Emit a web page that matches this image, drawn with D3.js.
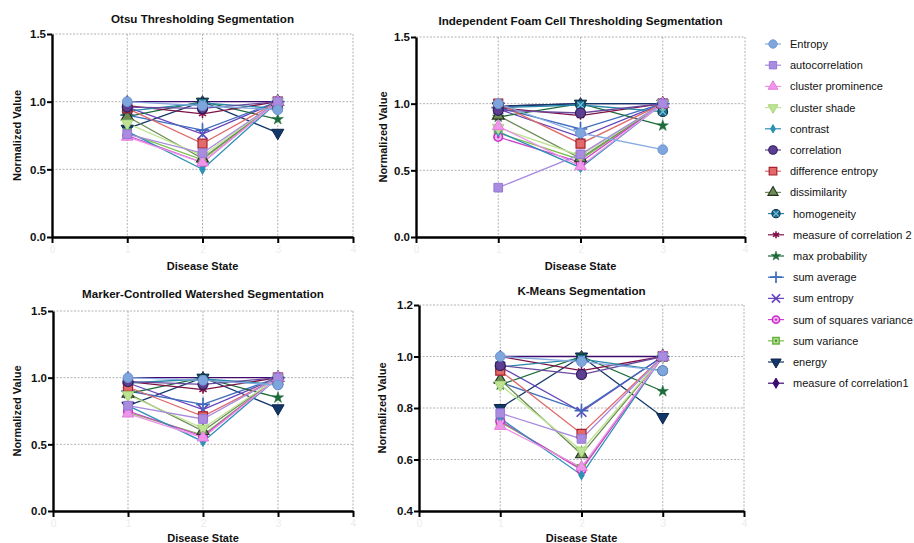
<!DOCTYPE html>
<html>
<head>
<meta charset="utf-8">
<script src="https://cdn.jsdelivr.net/npm/d3@7"></script>
<style>
  body { margin: 0; background: #fff; }
  svg { font-family: "Liberation Sans", Arial, sans-serif; display: block; }
</style>
</head>
<body>
<div id="chart"></div>
<script>
// ---- data ----
const seriesNames = [
  "Entropy", "autocorrelation", "cluster prominence", "cluster shade", "contrast",
  "correlation", "difference entropy", "dissimilarity", "homogeneity",
  "measure of correlation 2", "max probability", "sum average", "sum entropy",
  "sum of squares variance", "sum variance", "energy", "measure of correlation1"
];
const diseaseStates = [1, 2, 3];
const xTicks = [0, 1, 2, 3, 4];

// one row per series, values at disease state 1, 2, 3
const otsuValues = [
  [1.00, 0.97, 0.94], [0.76, 0.62, 1.00], [0.74, 0.55, 1.00], [0.84, 0.60, 1.00],
  [0.78, 0.50, 1.00], [0.96, 0.95, 1.00], [0.95, 0.69, 1.00], [0.89, 0.58, 1.00],
  [0.93, 0.99, 0.95], [0.97, 0.91, 1.00], [0.89, 1.00, 0.87], [0.90, 0.79, 1.00],
  [0.96, 0.76, 1.00], [0.75, 0.55, 1.00], [0.77, 0.57, 1.00], [0.80, 1.00, 0.77],
  [1.00, 1.00, 1.00]
];
const foamValues = [
  [1.00, 0.78, 0.655], [0.37, 0.62, 1.00], [0.83, 0.53, 1.00], [0.82, 0.61, 1.00],
  [0.79, 0.52, 1.00], [0.95, 0.93, 1.00], [1.00, 0.70, 1.00], [0.91, 0.59, 1.00],
  [0.97, 0.99, 0.94], [0.97, 0.91, 1.00], [0.90, 1.00, 0.835], [0.97, 0.81, 1.00],
  [0.96, 0.75, 1.00], [0.75, 0.56, 1.00], [0.78, 0.58, 1.00], [0.98, 1.00, 1.00],
  [0.98, 1.00, 1.00]
];
const watershedValues = [
  [1.00, 0.98, 0.945], [0.79, 0.69, 1.00], [0.73, 0.55, 1.00], [0.87, 0.62, 1.00],
  [0.79, 0.52, 1.00], [0.97, 0.95, 1.00], [0.93, 0.71, 1.00], [0.88, 0.60, 1.00],
  [0.96, 0.99, 0.95], [0.97, 0.91, 1.00], [0.88, 1.00, 0.85], [0.90, 0.80, 1.00],
  [0.96, 0.76, 1.00], [0.75, 0.56, 1.00], [0.74, 0.57, 1.00], [0.79, 1.00, 0.77],
  [1.00, 1.00, 1.00]
];
const kmeansValues = [
  [1.00, 0.98, 0.945], [0.78, 0.68, 1.00], [0.73, 0.57, 1.00], [0.89, 0.635, 1.00],
  [0.76, 0.54, 1.00], [0.965, 0.93, 1.00], [0.945, 0.70, 1.00], [0.91, 0.62, 1.00],
  [0.96, 0.99, 0.945], [1.00, 0.945, 1.00], [0.89, 1.00, 0.865], [0.90, 0.79, 1.00],
  [0.96, 0.785, 1.00], [0.75, 0.56, 1.00], [0.745, 0.565, 1.00], [0.80, 1.00, 0.765],
  [1.00, 1.00, 1.00]
];

const yTicks15 = [0, 0.5, 1.0, 1.5];
const yTicks12 = [0.4, 0.6, 0.8, 1.0, 1.2];

// ---- styles ----
const lineColors = ["#86abe0", "#a98be0", "#ee92e8", "#bfe394", "#2e90b5", "#6a4a9e",
  "#e06a6a", "#6d8b57", "#2b88aa", "#7d1247", "#1d6b3a", "#3f6bbd", "#6644bb",
  "#cc44cc", "#7ac04a", "#12386b", "#3d0c6e"];

const markerStyles = [
  { type: d3.symbolCircle, size: 75, fill: "#7ea6dc", stroke: "#6f98d4", sw: 1 },
  { type: d3.symbolSquare, size: 75, fill: "#a98be0", stroke: "#9678d6", sw: 1 },
  { type: d3.symbolTriangle, size: 58, fill: "#ef96ea", stroke: "#e27cde", sw: 1 },
  { type: d3.symbolTriangle, size: 58, fill: "#bfe394", stroke: "#a8d67a", sw: 1, rot: true },
  { type: d3.symbolDiamond, size: 28, fill: "#2e90b5", stroke: "#2e90b5", sw: 1 },
  { type: d3.symbolCircle, size: 80, fill: "#5c3f93", stroke: "#2e1b57", sw: 1.1 },
  { type: d3.symbolSquare, size: 80, fill: "#e36a6a", stroke: "#a5222c", sw: 1.2 },
  { type: d3.symbolTriangle, size: 62, fill: "#6d8b57", stroke: "#25321d", sw: 1.1 },
  { type: d3.symbolCircle, size: 75, fill: "#1f6f8e", stroke: "#0d3347", sw: 1.1, cross: "#6fc0de" },
  { type: d3.symbolAsterisk, size: 48, fill: "none", stroke: "#7d1247", sw: 1.6 },
  { type: d3.symbolStar, size: 40, fill: "#1d6b3a", stroke: "#1d6b3a", sw: 0.5 },
  { type: d3.symbolPlus, size: 64, fill: "none", stroke: "#3f6bbd", sw: 1.7 },
  { type: d3.symbolTimes, size: 64, fill: "none", stroke: "#6644bb", sw: 1.7 },
  { type: d3.symbolCircle, size: 58, fill: "#f2b6f2", stroke: "#c82fc8", sw: 1.6, dot: "#c82fc8" },
  { type: d3.symbolSquare, size: 58, fill: "#b6e09a", stroke: "#6bb33d", sw: 1.4, dot: "#4a8f2a" },
  { type: d3.symbolTriangle, size: 64, fill: "#12386b", stroke: "#0b2447", sw: 1, rot: true },
  { type: d3.symbolDiamond, size: 42, fill: "#3d0c6e", stroke: "#3d0c6e", sw: 1 }
];

const panels = [
  { title: "Otsu Thresholding Segmentation", values: otsuValues, domain: [0, 1.5], ticks: yTicks15,
    left: 52, right: 353, top: 34, bottom: 237, titleY: 23, yLabelX: 21, xLabelY: 270 },
  { title: "Independent Foam Cell Thresholding Segmentation", values: foamValues, domain: [0, 1.5], ticks: yTicks15,
    left: 416, right: 745, top: 37, bottom: 237, titleY: 25, yLabelX: 387, xLabelY: 270 },
  { title: "Marker-Controlled Watershed Segmentation", values: watershedValues, domain: [0, 1.5], ticks: yTicks15,
    left: 53, right: 353, top: 311, bottom: 511, titleY: 298, yLabelX: 21, xLabelY: 542 },
  { title: "K-Means Segmentation", values: kmeansValues, domain: [0.4, 1.2], ticks: yTicks12,
    left: 419, right: 744, top: 305, bottom: 511, titleY: 295, yLabelX: 386, xLabelY: 542 }
];

const svg = d3.select("#chart").append("svg")
  .attr("width", 914)
  .attr("height", 543);

function drawMarker(parent, i, px, py, k) {
  const st = markerStyles[i];
  const g = parent.append("g").attr("transform", `translate(${px},${py})`);
  const p = g.append("path")
    .attr("d", d3.symbol().type(st.type).size(st.size * k * k))
    .attr("fill", st.fill)
    .attr("stroke", st.stroke)
    .attr("stroke-width", st.sw);
  if (st.rot) p.attr("transform", "rotate(180)");
  if (st.cross) {
    g.append("path")
      .attr("d", d3.symbol().type(d3.symbolTimes).size(30 * k * k))
      .attr("fill", "none").attr("stroke", st.cross).attr("stroke-width", 1.2);
  }
  if (st.dot) {
    g.append("circle").attr("r", 1.4 * k).attr("fill", st.dot);
  }
}

panels.forEach(p => {
  const x = d3.scaleLinear().domain([0, 4]).range([p.left, p.right]);
  const y = d3.scaleLinear().domain(p.domain).range([p.bottom, p.top]);
  const g = svg.append("g");

  // dotted grid
  g.selectAll("line.vgrid").data(xTicks.slice(1)).join("line")
    .attr("class", "vgrid")
    .attr("x1", d => x(d)).attr("x2", d => x(d))
    .attr("y1", p.top).attr("y2", p.bottom)
    .attr("stroke", "#a0a0a0").attr("stroke-width", 0.8).attr("stroke-dasharray", "2,1.5");
  g.selectAll("line.hgrid").data(p.ticks.slice(1)).join("line")
    .attr("class", "hgrid")
    .attr("x1", p.left).attr("x2", p.right)
    .attr("y1", d => y(d)).attr("y2", d => y(d))
    .attr("stroke", "#a0a0a0").attr("stroke-width", 0.8).attr("stroke-dasharray", "2,1.5");

  const line = d3.line()
    .x((d, i) => x(diseaseStates[i]))
    .y(d => y(d));

  // series drawn last-to-first so Entropy sits on top
  const order = d3.range(seriesNames.length).reverse();
  order.forEach(i => {
    g.append("path")
      .attr("d", line(p.values[i]))
      .attr("fill", "none")
      .attr("stroke", lineColors[i])
      .attr("stroke-width", 1.3);
  });
  order.forEach(i => {
    p.values[i].forEach((v, j) => drawMarker(g, i, x(diseaseStates[j]), y(v), 1));
  });

  // axes
  const xAxis = g.append("g")
    .attr("transform", `translate(0,${p.bottom})`)
    .call(d3.axisBottom(x).tickValues(xTicks).tickSize(6).tickSizeOuter(0).tickFormat(d3.format("d")));
  xAxis.select(".domain").attr("stroke-width", 2.4);
  xAxis.selectAll(".tick line").attr("stroke-width", 2);
  xAxis.selectAll(".tick text").attr("fill", "#ececec").attr("font-size", 10);

  const yAxis = g.append("g")
    .attr("transform", `translate(${p.left},0)`)
    .call(d3.axisLeft(y).tickValues(p.ticks).tickSize(5).tickSizeOuter(0).tickFormat(d3.format(".1f")));
  yAxis.select(".domain").attr("stroke-width", 2.4);
  yAxis.selectAll(".tick line").attr("stroke-width", 2);
  yAxis.selectAll(".tick text")
    .attr("font-size", 11.5).attr("font-weight", "bold").attr("fill", "#111").attr("x", -6);

  // labels
  g.append("text")
    .attr("x", (p.left + p.right) / 2).attr("y", p.titleY)
    .attr("text-anchor", "middle")
    .attr("font-size", 11.6).attr("font-weight", "bold").attr("fill", "#111")
    .text(p.title);
  g.append("text")
    .attr("transform", `translate(${p.yLabelX},${(p.top + p.bottom) / 2}) rotate(-90)`)
    .attr("text-anchor", "middle")
    .attr("font-size", 11).attr("font-weight", "bold").attr("fill", "#111")
    .text("Normalized Value");
  g.append("text")
    .attr("x", x(2)).attr("y", p.xLabelY)
    .attr("text-anchor", "middle")
    .attr("font-size", 11).attr("font-weight", "bold").attr("fill", "#111")
    .text("Disease State");
});

// legend
const legend = svg.append("g");
seriesNames.forEach((name, i) => {
  const ly = 44 + i * 21.2;
  const lx = i < 8 ? 773 : 776;
  legend.append("line")
    .attr("x1", lx - 8).attr("x2", lx + 8)
    .attr("y1", ly).attr("y2", ly)
    .attr("stroke", lineColors[i]).attr("stroke-width", 1.2);
  drawMarker(legend, i, lx, ly, 0.85);
  legend.append("text")
    .attr("x", lx + 17).attr("y", ly + 4)
    .attr("font-size", 11).attr("fill", "#111")
    .text(name);
});
</script>
</body>
</html>
